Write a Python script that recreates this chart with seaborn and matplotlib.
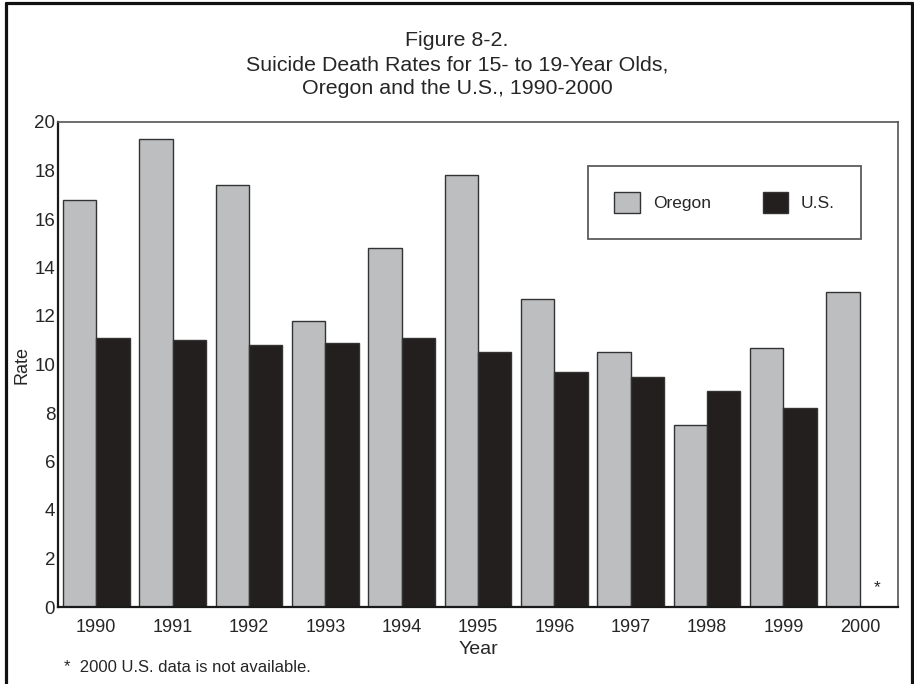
import matplotlib
matplotlib.use("Agg")
import matplotlib.pyplot as plt
import matplotlib.lines as mlines
import matplotlib.patches as mpatches
import seaborn as sns
import pandas as pd
import numpy as np

years = ["1990", "1991", "1992", "1993", "1994", "1995", "1996", "1997", "1998", "1999", "2000"]
oregon = [16.8, 19.3, 17.4, 11.8, 14.8, 17.8, 12.7, 10.5, 7.5, 10.7, 13.0]
us = [11.1, 11.0, 10.8, 10.9, 11.1, 10.5, 9.7, 9.5, 8.9, 8.2, np.nan]
series = ["Oregon", "U.S."]
colors = {"Oregon": "#bdbebf", "U.S.": "#231f1e"}
yticks = [0, 2, 4, 6, 8, 10, 12, 14, 16, 18, 20]

df = pd.DataFrame({
    "Year": years * 2,
    "Rate": oregon + us,
    "Series": ["Oregon"] * len(years) + ["U.S."] * len(years),
})

sns.set_style("white")
plt.rcParams["font.family"] = ["Liberation Sans", "DejaVu Sans"]

fig = plt.figure(figsize=(9.14, 6.84), dpi=100)
W, H = 914, 684
ax = fig.add_axes([58 / W, 1 - 607 / H, 840 / W, 485 / H])

sns.barplot(data=df, x="Year", y="Rate", hue="Series", hue_order=series,
            palette=colors, width=0.875, gap=0, dodge=True, ax=ax,
            edgecolor="#333333", linewidth=1.0, saturation=1, legend=False,
            errorbar=None)

ax.set_xlim(-0.5, len(years) - 0.5)
ax.set_ylim(0, 20)
ax.set_yticks(yticks)
ax.set_yticklabels([str(t) for t in yticks], fontsize=13.5)
ax.tick_params(axis="x", labelsize=13, length=0, pad=9)
ax.tick_params(axis="y", length=0, pad=2)
ax.set_xlabel("Year", fontsize=14, labelpad=3)
ax.set_ylabel("Rate", fontsize=13, labelpad=3)

for side in ["left", "bottom"]:
    ax.spines[side].set_color("#1a1a1a")
    ax.spines[side].set_linewidth(1.6)
for side in ["top", "right"]:
    ax.spines[side].set_color("#555555")
    ax.spines[side].set_linewidth(1.2)

# asterisk for missing 2000 U.S. value
ax.text(len(years) - 1 + 0.22, 0.8, "*", ha="center", va="center", fontsize=12.5, color="#222222")

handles = [mpatches.Patch(facecolor=colors[s], edgecolor="#333333", linewidth=1.0, label=s) for s in series]
leg = ax.legend(handles=handles, ncol=2, loc="upper right",
                bbox_to_anchor=((861 - 58) / 840, 1 - (166 - 122) / 485),
                fontsize=12.5, frameon=True, fancybox=False,
                handlelength=1.45, handleheight=1.45, handletextpad=0.75,
                columnspacing=3.0, borderpad=1.5, borderaxespad=0)
leg.get_frame().set_edgecolor("#333333")
leg.get_frame().set_linewidth(1.3)

title_fs = 15.4
fig.text(457 / W, 1 - 41 / H, "Figure 8-2.", ha="center", va="center", fontsize=title_fs)
fig.text(457 / W, 1 - 65 / H, "Suicide Death Rates for 15- to 19-Year Olds,", ha="center", va="center", fontsize=title_fs)
fig.text(457 / W, 1 - 89 / H, "Oregon and the U.S., 1990-2000", ha="center", va="center", fontsize=title_fs)
fig.text(64 / W, 1 - 667 / H, "*  2000 U.S. data is not available.", ha="left", va="center", fontsize=12)

# outer frame (open at bottom)
lw = 2.3
fig.add_artist(mlines.Line2D([5.5 / W, 5.5 / W], [0, 1 - 2.5 / H], color="#111111", linewidth=lw, transform=fig.transFigure))
fig.add_artist(mlines.Line2D([911.5 / W, 911.5 / W], [0, 1 - 2.5 / H], color="#111111", linewidth=lw, transform=fig.transFigure))
fig.add_artist(mlines.Line2D([5.5 / W, 911.5 / W], [1 - 2.5 / H, 1 - 2.5 / H], color="#111111", linewidth=lw, transform=fig.transFigure))

fig.savefig("out.png", dpi=100)
